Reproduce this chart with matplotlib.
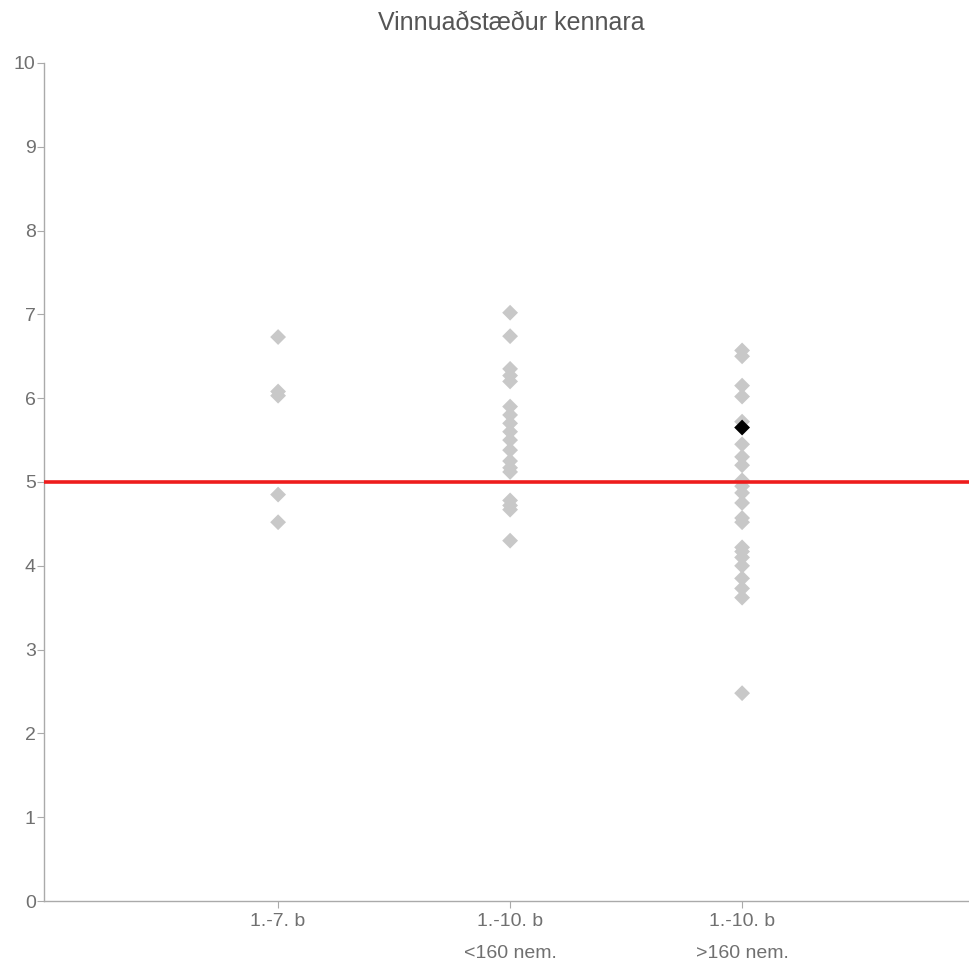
import matplotlib
matplotlib.use("Agg")
import matplotlib.pyplot as plt

plt.rcParams['font.family'] = ['Liberation Sans', 'DejaVu Sans']

title = "Vinnuaðstæður kennara"
categories = ["1.-7. b", "1.-10. b\n<160 nem.", "1.-10. b\n>160 nem."]
group1 = [6.73, 6.08, 6.03, 4.85, 4.52]
group2 = [7.02, 6.74, 6.35, 6.27, 6.20, 5.90, 5.80, 5.70, 5.60, 5.50, 5.38,
          5.25, 5.17, 5.12, 4.78, 4.72, 4.67, 4.30]
group3 = [6.57, 6.50, 6.15, 6.02, 5.72, 5.45, 5.30, 5.20, 5.02, 4.95, 4.87,
          4.75, 4.57, 4.52, 4.22, 4.17, 4.10, 4.00, 3.85, 3.73, 3.62, 2.48]
highlight_cat = 3
highlight_val = 5.65
reference_val = 5.0
y_ticks = list(range(0, 11))

fig = plt.figure(figsize=(9.69, 9.69), dpi=100)
ax = fig.add_axes([44/969, 68/969, 1 - 44/969, (901-63)/969])

groups = [group1, group2, group3]
for i, g in enumerate(groups, start=1):
    ax.scatter([i]*len(g), g, marker='D', s=65, color='#c8c8c8',
               edgecolors='none', zorder=2)

ax.axhline(reference_val, color='#ee1c1c', lw=2.6, zorder=3)
ax.scatter([highlight_cat], [highlight_val], marker='D', s=65, color='black',
           edgecolors='none', zorder=4)

ax.set_xlim(-0.009, 3.978)
ax.set_ylim(0, 10)
ax.set_xticks([1, 2, 3])
ax.set_xticklabels(categories, linespacing=2.1, va='top')
ax.set_yticks(y_ticks)
ax.set_yticklabels([str(t) for t in y_ticks])

for s in ['top', 'right']:
    ax.spines[s].set_visible(False)
for s in ['left', 'bottom']:
    ax.spines[s].set_color('#aaaaaa')
    ax.spines[s].set_linewidth(1.0)
ax.tick_params(axis='both', colors='#aaaaaa', labelcolor='#707070',
               labelsize=14, length=5, width=0.8)
ax.tick_params(axis='x', pad=4)
ax.tick_params(axis='y', pad=1)

fig.text(511/969, 1 - 23/969, title, ha='center', va='center',
         fontsize=18, color='#555555')

fig.savefig("out.png", dpi=100, facecolor='white')
